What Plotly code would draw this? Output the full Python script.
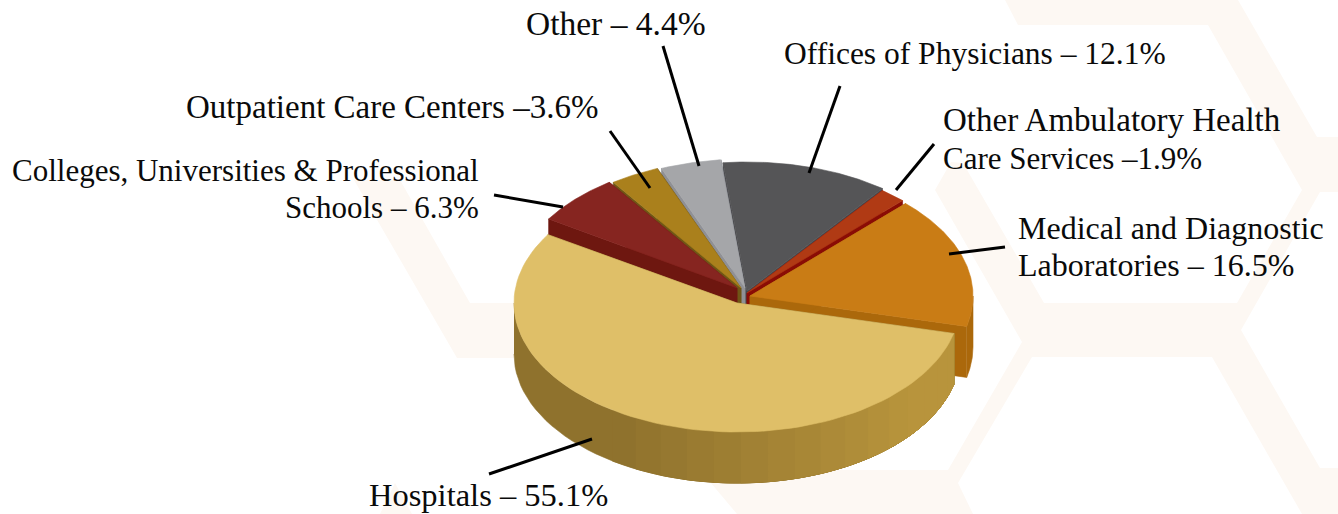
import numpy as np
import plotly.graph_objects as go

# ---------- data ----------
categories = ["Hospitals", "Medical and Diagnostic Laboratories", "Other Ambulatory Health Care Services",
              "Offices of Physicians", "Other", "Outpatient Care Centers",
              "Colleges, Universities & Professional Schools"]
shares = [55.1, 16.5, 1.9, 12.1, 4.4, 3.6, 6.3]
top_colors = ["#dfbf68", "#c97c15", "#b03a14", "#555557", "#a5a6a9", "#aa801c", "#862520"]
side_colors = ["#8f722d", "#ab680b", "#8a0c05", "#47474b", "#8f9095", "#6f5516", "#6e1710"]
label_lines = ["Hospitals – 55.1%", "Medical and Diagnostic", "Laboratories – 16.5%",
               "Other Ambulatory Health", "Care Services –1.9%", "Offices of Physicians – 12.1%",
               "Other – 4.4%", "Outpatient Care Centers –3.6%",
               "Colleges, Universities &amp; Professional", "Schools – 6.3%"]

# ---------- styling / layout ----------
start_angle = 148.0
rx, ry, depth = 223.0, 129.0, 51.0
apex = [(737, 303), (750, 296), (747, 293), (747, 291), (745, 288), (741, 288), (737, 288)]
draw_order = [3, 4, 5, 2, 6, 1, 0]
label_pos = [(488, 495, "center", 32.5), (1016, 228, "left", 32), (1016, 265, "left", 32),
             (941, 120, "left", 33), (941, 158, "left", 31), (974.5, 53, "center", 31.5),
             (615.5, 23, "center", 33.5), (391.5, 107, "center", 33),
             (481, 170, "right", 31), (481, 207, "right", 31)]
leaders = [(592, 439, 489, 474), (1005, 247, 949, 254), (934, 144, 896, 190), (840, 86, 809, 173),
           (663, 46, 699, 166), (610, 131, 650, 188), (494, 195, 563, 207)]
bg_color = "#fdf8f3"
bg_polys = [
    [(1005, 0), (1018, 25), (1208, 25), (1302, 190), (1237, 303), (1044, 303), (963, 163), (951, 162),
     (935, 190), (1022, 342), (948, 470), (700, 470), (737, 514), (973, 514), (958, 483), (1032, 357),
     (1212, 357), (1302, 514), (1338, 514), (1338, 468), (1320, 468), (1241, 330), (1320, 192),
     (1338, 192), (1338, 137), (1317, 137), (1238, 0)],
    [(354, 180), (400, 180), (470, 303), (560, 303), (560, 358), (457, 358)],
    [(395, 483), (412, 514), (380, 514)],
]


def point(c, t):
    r = np.radians(t)
    return c[0] + rx * np.cos(r), c[1] - ry * np.sin(r)


def poly(xs, ys, color, name, width=0.6):
    return go.Scatter(x=list(xs), y=list(ys), mode="lines", fill="toself", fillcolor=color,
                      line=dict(color=color, width=width), name=name, hoverinfo="name", showlegend=False)


def lerp(a, b, f):
    ca = [int(a[i:i + 2], 16) for i in (1, 3, 5)]
    cb = [int(b[i:i + 2], 16) for i in (1, 3, 5)]
    return "#%02x%02x%02x" % tuple(round(p + (q - p) * f) for p, q in zip(ca, cb))


def wall(c, a, b, color, name):
    wx, wy = point(c, np.linspace(a, b, 60))
    return poly(np.r_[wx, wx[::-1]], np.r_[wy, wy[::-1] + depth], color, name)


# angle range of each slice, derived from its share
edges = start_angle + np.concatenate([[0], np.cumsum(shares)]) * 3.6

fig = go.Figure()
for i in draw_order:
    c, t0, t1, name = apex[i], edges[i], edges[i + 1], categories[i]
    ts = np.linspace(t0, t1, 90)
    px, py = point(c, ts)
    # cut faces
    for t in (t0, t1):
        ex, ey = point(c, t)
        fig.add_trace(poly([c[0], ex, ex, c[0], c[0]], [c[1], ey, ey + depth, c[1] + depth, c[1]],
                           side_colors[i], name))
    # outer wall: only the part that faces the viewer
    a, b = max(t0, 180.0), min(t1, 360.0)
    if a < b:
        fig.add_trace(wall(c, a, b, side_colors[i], name))
    if i == 0:
        # later facets paint over earlier ones, so there are no seams
        for s in np.arange(236.0, t1, 7.0):
            col = lerp(side_colors[0], "#b8943c", float(np.clip((s - 236) / 80, 0, 1)))
            fig.add_trace(wall(c, s, t1, col, name))
    # top face
    fig.add_trace(poly(np.r_[c[0], px, c[0]], np.r_[c[1], py, c[1]], top_colors[i], name))

shapes = []
for pts in bg_polys:
    path = "M " + " L ".join(f"{x},{y}" for x, y in pts) + " Z"
    shapes.append(dict(type="path", path=path, xref="x", yref="y", layer="below",
                       fillcolor=bg_color, line=dict(width=0)))
for x0, y0, x1, y1 in leaders:
    shapes.append(dict(type="line", x0=x0, y0=y0, x1=x1, y1=y1, xref="x", yref="y", layer="above",
                       line=dict(color="#000000", width=3)))

annotations = []
for text, (x, y, anchor, size) in zip(label_lines, label_pos):
    annotations.append(dict(text=text, x=x, y=y, xref="x", yref="y", xanchor=anchor, yanchor="middle",
                            align=anchor, showarrow=False,
                            font=dict(family="Liberation Serif", size=size, color="#0a0a0a")))

fig.update_layout(
    width=1338, height=514, margin=dict(l=0, r=0, t=0, b=0),
    paper_bgcolor="#ffffff", plot_bgcolor="rgba(0,0,0,0)", showlegend=False,
    xaxis=dict(range=[0, 1338], visible=False, fixedrange=True),
    yaxis=dict(range=[514, 0], visible=False, fixedrange=True),
    shapes=shapes, annotations=annotations,
)
fig.write_html("out.html", config={"displayModeBar": False},
               post_script="document.body.style.margin='0';")
